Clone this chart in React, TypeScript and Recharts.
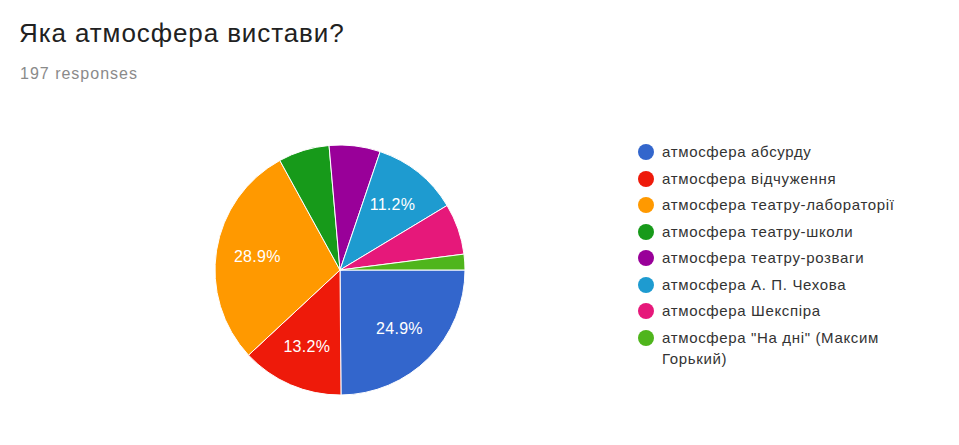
import { Cell, Pie, PieChart } from 'recharts';

const categories = [
    'атмосфера абсурду',
    'атмосфера відчуження',
    'атмосфера театру-лабораторії',
    'атмосфера театру-школи',
    'атмосфера театру-розваги',
    'атмосфера А. П. Чехова',
    'атмосфера Шекспіра',
    'атмосфера "На дні" (Максим Горький)',
];

// responses per option (197 total)
const responses = [49, 26, 57, 13, 13, 22, 13, 4];

const colors = [
    '#3366cc',
    '#ee1a0a',
    '#ff9900',
    '#179a1a',
    '#990099',
    '#1e9bd0',
    '#e6187a',
    '#4fb51c',
];

const data = categories.map((name, i) => ({ name, value: responses[i] }));

const FONT = "'Liberation Sans', Arial, sans-serif";
const RADIAN = Math.PI / 180;

function renderLabel(props: any) {
    const { cx, cy, midAngle, outerRadius, percent } = props;
    if (percent < 0.1) return null;
    const r = outerRadius * 0.67;
    const x = cx + r * Math.cos(-midAngle * RADIAN);
    const y = cy + r * Math.sin(-midAngle * RADIAN);
    return (
        <text
            x={x}
            y={y}
            fill="#fff"
            textAnchor="middle"
            dominantBaseline="central"
            style={{ fontFamily: FONT, fontSize: 16, letterSpacing: 0.3 }}
        >
            {(percent * 100).toFixed(1)}%
        </text>
    );
}

function ChartLegend() {
    return (
        <div
            style={{
                position: 'absolute',
                left: 638,
                top: 141,
                fontFamily: FONT,
                fontSize: 15,
                letterSpacing: 0.65,
                color: '#333',
            }}
        >
            {categories.map((name, i) => (
                <div
                    key={name}
                    style={{
                        display: 'flex',
                        alignItems: 'flex-start',
                        marginBottom: 5,
                        lineHeight: '21.5px',
                    }}
                >
                    <span
                        style={{
                            width: 16,
                            height: 16,
                            borderRadius: 8,
                            background: colors[i],
                            flex: 'none',
                            marginTop: 3,
                            marginRight: 8,
                        }}
                    />
                    <span style={{ width: 265 }}>{name}</span>
                </div>
            ))}
        </div>
    );
}

export default function App() {
    return (
        <div
            style={{
                position: 'relative',
                width: 959,
                height: 445,
                margin: -8,
                background: '#fff',
                overflow: 'hidden',
            }}
        >
            <div
                style={{
                    position: 'absolute',
                    left: 19,
                    top: 18,
                    fontFamily: FONT,
                    fontSize: 26,
                    letterSpacing: 0.9,
                    color: '#212121',
                }}
            >
                Яка атмосфера вистави?
            </div>
            <div
                style={{
                    position: 'absolute',
                    left: 20,
                    top: 65,
                    fontFamily: FONT,
                    fontSize: 16,
                    letterSpacing: 1,
                    color: '#8a8a8a',
                }}
            >
                197 responses
            </div>
            <div style={{ position: 'absolute', left: 0, top: 0 }}>
                <PieChart
                    width={959}
                    height={445}
                    margin={{ top: 0, right: 0, bottom: 0, left: 0 }}
                >
                    <Pie
                        data={data}
                        dataKey="value"
                        nameKey="name"
                        cx={340}
                        cy={270}
                        outerRadius={125}
                        startAngle={0}
                        endAngle={-360}
                        stroke="#fff"
                        strokeWidth={1}
                        label={renderLabel}
                        labelLine={false}
                        isAnimationActive={false}
                    >
                        {data.map((_, i) => (
                            <Cell key={i} fill={colors[i]} />
                        ))}
                    </Pie>
                </PieChart>
            </div>
            <ChartLegend />
        </div>
    );
}
